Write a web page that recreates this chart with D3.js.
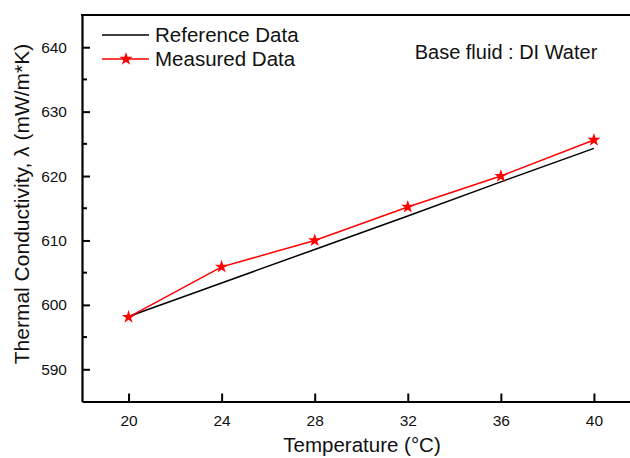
<!DOCTYPE html>
<html>
<head>
<meta charset="utf-8">
<script src="https://cdn.jsdelivr.net/npm/d3@7"></script>
<style>
  body { margin: 0; background: #fff; }
  text { font-family: "Liberation Sans", Arial, sans-serif; fill: #111; }
</style>
</head>
<body>
<div id="chart"></div>
<script>
let width = 630;
let height = 458;
let margin = ({top: 15, right: 0, bottom: 56, left: 82});

// data
let temperature = [20, 24, 28, 32, 36, 40];
let referenceData = [598.2, 603.4, 608.6, 613.8, 619.1, 624.3];
let measuredData = [598.1, 605.9, 610.0, 615.2, 620.0, 625.6];
let xTicks = [20, 24, 28, 32, 36, 40];
let yTicks = [590, 600, 610, 620, 630, 640];
let yMinor = [595, 605, 615, 625, 635];

let svg = d3.select("#chart").append("svg")
    .attr("width", width)
    .attr("height", height);

let xScale = d3.scaleLinear()
    .domain([18, 41.55])
    .range([margin.left, width - margin.right]);

let yScale = d3.scaleLinear()
    .domain([585, 645])
    .range([height - margin.bottom - 0.5, margin.top]);

// axes (ticks pointing inward)
let xAxis = d3.axisBottom(xScale).tickValues(xTicks).tickSize(-8).tickPadding(13).tickSizeOuter(0);
let yAxis = d3.axisLeft(yScale).tickValues(yTicks).tickSize(-8).tickPadding(15).tickSizeOuter(0);

let gx = svg.append("g")
    .attr("transform", "translate(0," + yScale(585) + ")")
    .call(xAxis);
let gy = svg.append("g")
    .attr("transform", "translate(" + margin.left + ",0)")
    .call(yAxis);

[gx, gy].forEach(function(g) {
    g.select(".domain").attr("stroke", "#000").attr("stroke-width", 2.2);
    g.selectAll(".tick line").attr("stroke", "#000").attr("stroke-width", 2);
    g.selectAll(".tick text").style("font-size", "15.5px").attr("fill", "#111");
});

// minor y ticks
svg.append("g").selectAll("line")
    .data(yMinor)
    .join("line")
    .attr("x1", margin.left)
    .attr("x2", margin.left + 5)
    .attr("y1", function(d) { return yScale(d); })
    .attr("y2", function(d) { return yScale(d); })
    .attr("stroke", "#000")
    .attr("stroke-width", 2);

// top frame line
svg.append("line")
    .attr("x1", margin.left - 1)
    .attr("x2", width)
    .attr("y1", yScale(645))
    .attr("y2", yScale(645))
    .attr("stroke", "#000")
    .attr("stroke-width", 2.2);

let line = d3.line()
    .x(function(d) { return xScale(d[0]); })
    .y(function(d) { return yScale(d[1]); });

let refPts = temperature.map(function(t, i) { return [t, referenceData[i]]; });
let measPts = temperature.map(function(t, i) { return [t, measuredData[i]]; });

svg.append("path")
    .datum(refPts)
    .attr("d", line)
    .attr("fill", "none")
    .attr("stroke", "#000")
    .attr("stroke-width", 1.5);

svg.append("path")
    .datum(measPts)
    .attr("d", line)
    .attr("fill", "none")
    .attr("stroke", "#ff0000")
    .attr("stroke-width", 1.5);

let star = d3.symbol().type(d3.symbolStar).size(55);

svg.append("g").selectAll("path")
    .data(measPts)
    .join("path")
    .attr("d", star)
    .attr("transform", function(d) { return "translate(" + xScale(d[0]) + "," + yScale(d[1]) + ")"; })
    .attr("fill", "#ff0000");

// legend
let legend = svg.append("g");
legend.append("line")
    .attr("x1", 102).attr("x2", 149)
    .attr("y1", 35).attr("y2", 35)
    .attr("stroke", "#000").attr("stroke-width", 1.5);
legend.append("text")
    .attr("x", 155).attr("y", 42)
    .style("font-size", "20.5px")
    .text("Reference Data");
legend.append("line")
    .attr("x1", 102).attr("x2", 149)
    .attr("y1", 59).attr("y2", 59)
    .attr("stroke", "#ff0000").attr("stroke-width", 1.5);
legend.append("path")
    .attr("d", star)
    .attr("transform", "translate(126,59)")
    .attr("fill", "#ff0000");
legend.append("text")
    .attr("x", 155).attr("y", 66)
    .style("font-size", "20.5px")
    .text("Measured Data");

svg.append("text")
    .attr("x", 506).attr("y", 59)
    .attr("text-anchor", "middle")
    .style("font-size", "20px")
    .text("Base fluid : DI Water");

// axis titles
svg.append("text")
    .attr("x", 362).attr("y", 452)
    .attr("text-anchor", "middle")
    .style("font-size", "20.5px")
    .text("Temperature (°C)");

svg.append("text")
    .attr("transform", "translate(29,204) rotate(-90)")
    .attr("text-anchor", "middle")
    .style("font-size", "21px")
    .text("Thermal Conductivity, λ (mW/m*K)");
</script>
</body>
</html>
